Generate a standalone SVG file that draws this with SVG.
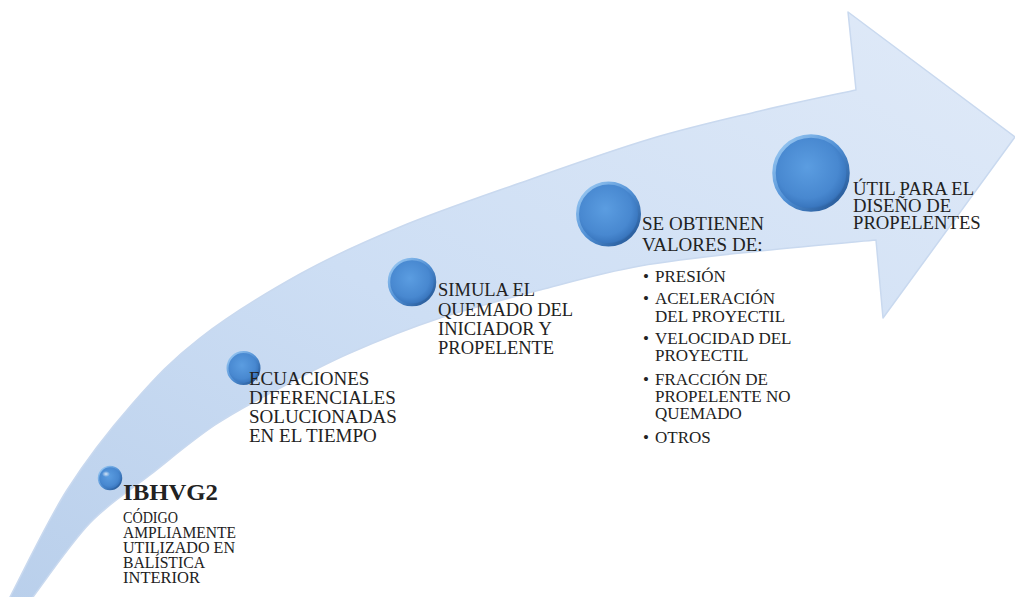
<svg xmlns="http://www.w3.org/2000/svg" width="1015" height="597" viewBox="0 0 1015 597">
  <defs>
    <linearGradient id="bandFill" x1="0" y1="1" x2="1" y2="0">
      <stop offset="0" stop-color="#b9cfeb"/>
      <stop offset="0.45" stop-color="#cddef4"/>
      <stop offset="1" stop-color="#e0eaf8"/>
    </linearGradient>
    <radialGradient id="ballFill" cx="0.45" cy="0.42" r="0.6">
      <stop offset="0" stop-color="#5b9de1"/>
      <stop offset="0.7" stop-color="#4888d0"/>
      <stop offset="0.9" stop-color="#3a77bf"/>
      <stop offset="1" stop-color="#2b5f9f"/>
    </radialGradient>
    <linearGradient id="ballRim" x1="0" y1="0" x2="1" y2="1">
      <stop offset="0" stop-color="#a6d2f7"/>
      <stop offset="0.5" stop-color="#4f8fd5"/>
      <stop offset="1" stop-color="#1f4f8c"/>
    </linearGradient>
    <radialGradient id="ballShine" cx="0.5" cy="0.5" r="0.5">
      <stop offset="0" stop-color="#ffffff" stop-opacity="0.75"/>
      <stop offset="1" stop-color="#ffffff" stop-opacity="0"/>
    </radialGradient>
  </defs>
  <style>
    .label { font-family: "Liberation Serif", "Times New Roman", serif; fill: #222222; }
    .ball { fill: url(#ballFill); stroke: url(#ballRim); }
  </style>

  <rect width="1015" height="597" fill="#ffffff"/>

  <!-- curved progress arrow -->
  <g id="arrow">
    <path d="M10,597 C19.5,579.2 46.5,522.3 67,490 C87.5,457.7 110.8,428.3 133,403 C155.2,377.7 172.2,359.5 200,338 C227.8,316.5 266.7,292.5 300,274 C333.3,255.5 363.3,242.2 400,227 C436.7,211.8 478.3,197.7 520,183 C561.7,168.3 610,151 650,139 C690,127 725.7,119.2 760,111 C794.3,102.8 840,93.5 856,90 L848,12 L1015,137 L883,318 L876,240 C856.7,241.8 799.3,246.7 760,251 C720.7,255.3 676.7,259.5 640,266 C603.3,272.5 573.3,281.3 540,290 C506.7,298.7 471.7,307.5 440,318 C408.3,328.5 376.7,341.3 350,353 C323.3,364.7 302.5,376 280,388 C257.5,400 236.7,410.5 215,425 C193.3,439.5 170.8,458.7 150,475 C129.2,491.3 109.5,502.7 90,523 C70.5,543.3 42.5,584.7 33,597 L28,605 L5,605 Z"
          fill="url(#bandFill)" stroke="#c9d9ef" stroke-width="1.5" stroke-linejoin="round"/>
  </g>

  <!-- step 1 -->
  <g id="step1">
    <circle class="ball" cx="110" cy="478" r="11.5" stroke-width="1.5"/>
    <ellipse cx="106" cy="474" rx="4" ry="3" fill="url(#ballShine)"/>
    <text class="label" x="123" y="500" font-size="23" font-weight="bold" textLength="95" lengthAdjust="spacingAndGlyphs">IBHVG2</text>
    <!-- body lines are set slightly tall and narrow -->
    <g transform="translate(123,0) scale(1,1.1)">
      <text class="label" x="0" y="475.5" font-size="15.5" textLength="55" lengthAdjust="spacingAndGlyphs">CÓDIGO</text>
      <text class="label" x="0" y="489.1" font-size="15.5" textLength="113" lengthAdjust="spacingAndGlyphs">AMPLIAMENTE</text>
      <text class="label" x="0" y="502.7" font-size="15.5" textLength="112" lengthAdjust="spacingAndGlyphs">UTILIZADO  EN</text>
      <text class="label" x="0" y="516.4" font-size="15.5" textLength="82" lengthAdjust="spacingAndGlyphs">BALÍSTICA</text>
      <text class="label" x="0" y="530" font-size="15.5" textLength="77" lengthAdjust="spacingAndGlyphs">INTERIOR</text>
    </g>
  </g>

  <!-- step 2 -->
  <g id="step2">
    <circle class="ball" cx="243.5" cy="368" r="16" stroke-width="2"/>
    <text class="label" font-size="19">
      <tspan x="249" y="384.5">ECUACIONES</tspan>
      <tspan x="249" y="403.5">DIFERENCIALES</tspan>
      <tspan x="249" y="422.5">SOLUCIONADAS</tspan>
      <tspan x="249" y="441.5">EN EL TIEMPO</tspan>
    </text>
  </g>

  <!-- step 3 -->
  <g id="step3">
    <circle class="ball" cx="412" cy="282" r="23" stroke-width="2.5"/>
    <text class="label" font-size="18.5">
      <tspan x="438" y="296">SIMULA EL</tspan>
      <tspan x="438" y="315.5">QUEMADO DEL</tspan>
      <tspan x="438" y="335">INICIADOR Y</tspan>
      <tspan x="438" y="354">PROPELENTE</tspan>
    </text>
  </g>

  <!-- step 4 -->
  <g id="step4">
    <circle class="ball" cx="608.5" cy="214" r="31" stroke-width="3"/>
    <text class="label" font-size="19">
      <tspan x="642" y="230">SE OBTIENEN</tspan>
      <tspan x="642" y="250.5">VALORES  DE:</tspan>
    </text>
    <text class="label" font-size="17">
      <tspan x="643" y="282">•</tspan>
      <tspan x="643" y="304">•</tspan>
      <tspan x="643" y="343.5">•</tspan>
      <tspan x="643" y="385">•</tspan>
      <tspan x="643" y="442.5">•</tspan>
    </text>
    <text class="label" font-size="17">
      <tspan x="655" y="282">PRESIÓN</tspan>
      <tspan x="655" y="304">ACELERACIÓN</tspan>
      <tspan x="655" y="321.5">DEL PROYECTIL</tspan>
      <tspan x="655" y="343.5">VELOCIDAD  DEL</tspan>
      <tspan x="655" y="360.5">PROYECTIL</tspan>
      <tspan x="655" y="385">FRACCIÓN DE</tspan>
      <tspan x="655" y="402">PROPELENTE NO</tspan>
      <tspan x="655" y="419">QUEMADO</tspan>
      <tspan x="655" y="442.5">OTROS</tspan>
    </text>
  </g>

  <!-- step 5 -->
  <g id="step5">
    <circle class="ball" cx="811" cy="173" r="37" stroke-width="3.5"/>
    <text class="label" font-size="18.7">
      <tspan x="853" y="194.5">ÚTIL PARA EL</tspan>
      <tspan x="853" y="211.5">DISEÑO DE</tspan>
      <tspan x="853" y="228.5">PROPELENTES</tspan>
    </text>
  </g>
</svg>
